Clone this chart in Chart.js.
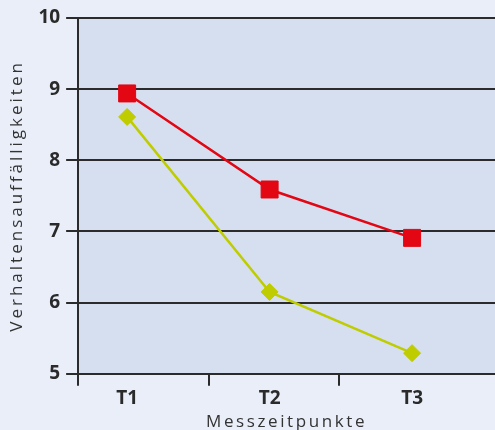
<!DOCTYPE html>
<html>
<head>
<meta charset="utf-8">
<script src="https://cdn.jsdelivr.net/npm/chart.js@4/dist/chart.umd.min.js"></script>
<style>
  html, body { margin: 0; padding: 0; background: #e9eef8; overflow: hidden; }
  #chart { display: block; }
</style>
</head>
<body>
<canvas id="chart" width="495" height="442"></canvas>
<script>
// --- data ---
const measurePoints = ['T1', 'T2', 'T3'];
const seriesRed = [8.94, 7.59, 6.91];
const seriesGreen = [8.61, 6.15, 5.29];
const yTicks = [5, 6, 7, 8, 9, 10];

const toXY = (vals) => vals.map((v, i) => ({ x: i + 1, y: v }));

const textColor = '#2a2a2a';
const lineDark = '#2b2b2b';

// plot area background
const plotBg = {
    id: 'plotBg',
    beforeDraw(chart) {
        const { ctx, chartArea: a } = chart;
        ctx.save();
        ctx.fillStyle = '#d6dff0';
        ctx.fillRect(a.left, a.top, a.right - a.left, a.bottom - a.top);
        ctx.restore();
    }
};

// spaced axis titles
const titleSpacing = { x: '2.6px', y: '3px' };
const spacedTitles = {
    id: 'spacedTitles',
    afterUpdate(chart) {
        Object.values(chart.scales).forEach(s => {
            if (s._spaced) return;
            const orig = s.drawTitle;
            s.drawTitle = function () {
                this.ctx.letterSpacing = titleSpacing[this.id] || '0px';
                orig.call(this);
                this.ctx.letterSpacing = '0px';
            };
            s._spaced = true;
        });
    }
};

const ctx = document.getElementById('chart').getContext('2d');

new Chart(ctx, {
    type: 'line',
    data: {
        datasets: [
            {
                label: 'Gruppe 1',
                data: toXY(seriesRed),
                borderColor: '#e30613',
                backgroundColor: '#e30613',
                borderWidth: 2.5,
                pointStyle: 'rect',
                pointRadius: 12,
                pointBorderWidth: 1,
                pointHoverRadius: 12,
                tension: 0
            },
            {
                label: 'Gruppe 2',
                data: toXY(seriesGreen),
                borderColor: '#bfcc00',
                backgroundColor: '#bfcc00',
                borderWidth: 2.5,
                pointStyle: 'rectRot',
                pointRadius: 8.5,
                pointBorderWidth: 1,
                pointHoverRadius: 8.5,
                tension: 0
            }
        ]
    },
    options: {
        responsive: false,
        animation: false,
        layout: { autoPadding: false, padding: { top: 18, right: 0, bottom: 10, left: 3 } },
        plugins: {
            legend: { display: false },
            tooltip: { enabled: false },
            title: { display: false }
        },
        scales: {
            x: {
                type: 'linear',
                min: 0.656,
                max: 3.582,
                afterBuildTicks: (axis) => {
                    const marks = [0.656, 1.575, 2.488];
                    const labelled = measurePoints.map((_, i) => i + 1);
                    axis.ticks = marks.concat(labelled).sort((a, b) => a - b).map(v => ({ value: v }));
                },
                ticks: {
                    autoSkip: false,
                    maxRotation: 0,
                    padding: 1,
                    color: textColor,
                    font: { family: 'Open Sans', size: 19, weight: 'bold' },
                    callback: (v) => Number.isInteger(v) ? measurePoints[v - 1] : ''
                },
                grid: {
                    drawOnChartArea: false,
                    drawTicks: true,
                    tickLength: 12,
                    lineWidth: 2,
                    tickWidth: 2,
                    tickColor: (c) => (c.tick && Number.isInteger(c.tick.value)) ? 'transparent' : lineDark
                },
                border: { display: true, color: lineDark, width: 2 },
                title: {
                    display: true,
                    text: 'Messzeitpunkte',
                    color: '#333333',
                    font: { family: 'Open Sans', size: 17 },
                    padding: { top: 1, bottom: 0 }
                }
            },
            y: {
                min: 5,
                max: 10,
                afterBuildTicks: (axis) => { axis.ticks = yTicks.map(v => ({ value: v })); },
                ticks: {
                    padding: 6,
                    color: textColor,
                    font: { family: 'Open Sans', size: 19, weight: 'bold' }
                },
                grid: {
                    color: lineDark,
                    lineWidth: 2,
                    tickLength: 12,
                    tickWidth: 2,
                    tickColor: lineDark
                },
                border: { display: true, color: lineDark, width: 2 },
                title: {
                    display: true,
                    text: 'Verhaltensauffälligkeiten',
                    color: '#333333',
                    font: { family: 'Open Sans', size: 17 },
                    padding: { top: 4, bottom: 5 }
                }
            }
        }
    },
    plugins: [plotBg, spacedTitles]
});
</script>
</body>
</html>
